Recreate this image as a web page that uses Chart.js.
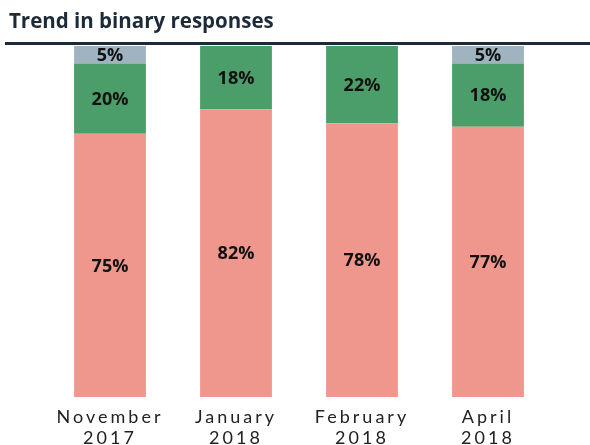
<!DOCTYPE html>
<html>
<head>
<meta charset="utf-8">
<script src="https://cdn.jsdelivr.net/npm/chart.js@4.4.1/dist/chart.umd.min.js"></script>
<style>
  html, body { margin: 0; padding: 0; background: #fff; overflow: hidden; }
  #wrap { width: 590px; height: 445px; position: relative; }
</style>
</head>
<body>
<div id="wrap"><canvas id="trendChart"></canvas></div>
<script>
// data
const categories = [["November", "2017"], ["January", "2018"], ["February", "2018"], ["April", "2018"]];
const seriesA = [75, 82, 78, 77];   // salmon, bottom
const seriesB = [20, 18, 22, 18];   // green, middle
const seriesC = [5, 0, 0, 5];       // grey, top

const titleText = "Trend in binary responses";
const ink = "#1d2b38";

// title + rule across the top
const headerPlugin = {
  id: "header",
  beforeDraw(chart) {
    const ctx = chart.ctx;
    ctx.save();
    ctx.fillStyle = ink;
    ctx.font = "bold 20.5px 'Open Sans', Lato, sans-serif";
    ctx.textBaseline = "middle";
    ctx.textAlign = "left";
    ctx.fillText(titleText, 9, 22);
    ctx.fillRect(5, 42, chart.width - 5, 3);
    ctx.restore();
    // spaced-out axis labels
    ctx.letterSpacing = "3px";
  },
  beforeDatasetsDraw(chart) {
    chart.ctx.letterSpacing = "0px";
  },
  afterDatasetsDraw(chart) {
    const ctx = chart.ctx;
    ctx.save();
    ctx.font = "bold 18px 'Open Sans', Lato, sans-serif";
    ctx.fillStyle = "#111";
    ctx.textAlign = "center";
    ctx.textBaseline = "middle";
    chart.data.datasets.forEach((ds, di) => {
      const meta = chart.getDatasetMeta(di);
      meta.data.forEach((bar, i) => {
        const v = ds.data[i];
        if (!v) return;
        const top = Math.min(bar.y, bar.base), bottom = Math.max(bar.y, bar.base);
        ctx.fillText(v + "%", bar.x, (top + bottom) / 2 + 1);
      });
    });
    ctx.restore();
  }
};

new Chart(document.getElementById("trendChart").getContext("2d"), {
  type: "bar",
  data: {
    labels: categories,
    datasets: [
      { data: seriesA, backgroundColor: "#f0978d" },
      { data: seriesB, backgroundColor: "#4b9e69" },
      { data: seriesC, backgroundColor: "#9fb3c1" }
    ]
  },
  options: {
    responsive: true,
    maintainAspectRatio: false,
    animation: false,
    layout: { padding: { top: 46, left: 47, right: 39, bottom: 0 } },
    datasets: { bar: { categoryPercentage: 1, barPercentage: 0.57, borderWidth: 0 } },
    scales: {
      x: {
        stacked: true,
        grid: { display: false, drawTicks: false },
        border: { display: false },
        ticks: {
          color: "#222",
          font: { family: "Lato, 'Open Sans', sans-serif", size: 18 },
          padding: 9,
          maxRotation: 0,
          autoSkip: false
        },
        afterFit(scale) { scale.height = 48; }
      },
      y: {
        stacked: true,
        display: false,
        min: 0,
        max: 100
      }
    },
    plugins: {
      legend: { display: false },
      tooltip: { enabled: false }
    }
  },
  plugins: [headerPlugin]
});
</script>
</body>
</html>
